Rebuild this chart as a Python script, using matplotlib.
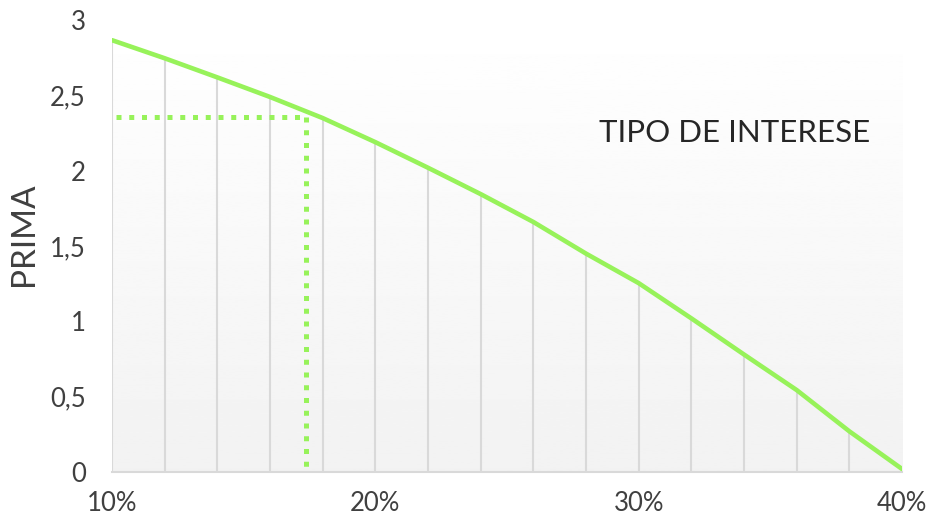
import numpy as np
import matplotlib
matplotlib.use("Agg")
import matplotlib.pyplot as plt

# premium of the option against the interest rate (%)
tipo = [10, 12, 14, 16, 18, 20, 22, 24, 26, 28, 30, 32, 34, 36, 38, 40]
prima = [2.867, 2.747, 2.62, 2.49, 2.35, 2.19, 2.02, 1.845, 1.66, 1.45,
         1.254, 1.02, 0.78, 0.544, 0.27, 0.02]

# reading marked with the dotted guide
tipo_marca = 17.37
prima_marca = 2.36

y_ticks = [0, 0.5, 1, 1.5, 2, 2.5, 3]
y_labels = ['0', '0,5', '1', '1,5', '2', '2,5', '3']
x_ticks = [10, 20, 30, 40]
x_labels = ['10%', '20%', '30%', '40%']

GREEN = '#97f25a'
GRID = '#d9d9d9'
TEXT = '#404040'

plt.rcParams['font.family'] = ['Lato', 'DejaVu Sans']

fig = plt.figure(figsize=(9.29, 5.17), dpi=100)
ax = fig.add_axes([0.1206, 0.087, 0.8504, 0.874])

# soft white-to-grey background of the plot area
grad = np.linspace(1.0, 0.949, 256).reshape(-1, 1)
ax.imshow(grad, cmap='gray', vmin=0, vmax=1, aspect='auto',
          extent=[10, 40, 0, 3], origin='upper', zorder=0)

ax.vlines(tipo, 0, prima, colors=GRID, linewidth=1.5, zorder=1)
ax.plot(tipo, prima, color=GREEN, linewidth=3.3, solid_capstyle='round', zorder=3)

ax.plot([10.15, tipo_marca], [prima_marca, prima_marca], color=GREEN,
        linewidth=3.6, linestyle=(0, (1, 1.55)), dash_capstyle='butt', zorder=2)
ax.plot([tipo_marca, tipo_marca], [prima_marca, 0.01], color=GREEN,
        linewidth=3.6, linestyle=(0, (1, 1.55)), dash_capstyle='butt', zorder=2)

ax.set_xlim(10, 40)
ax.set_ylim(0, 3)
ax.set_xticks(x_ticks, x_labels)
ax.set_yticks(y_ticks, y_labels)
ax.tick_params(length=0, labelsize=18.5, labelcolor=TEXT)
ax.tick_params(axis='x', pad=14)
ax.tick_params(axis='y', pad=19)

for side in ['top', 'right', 'left']:
    ax.spines[side].set_visible(False)
ax.spines['bottom'].set_color(GRID)
ax.spines['bottom'].set_linewidth(1.5)

ax.set_ylabel('PRIMA', fontsize=24, color=TEXT, labelpad=8, y=0.527)
ax.text(0.616, 0.75, 'TIPO DE INTERESE', transform=ax.transAxes,
        fontsize=22.5, color='#262626', ha='left', va='center')

plt.savefig('out.png', dpi=100)
